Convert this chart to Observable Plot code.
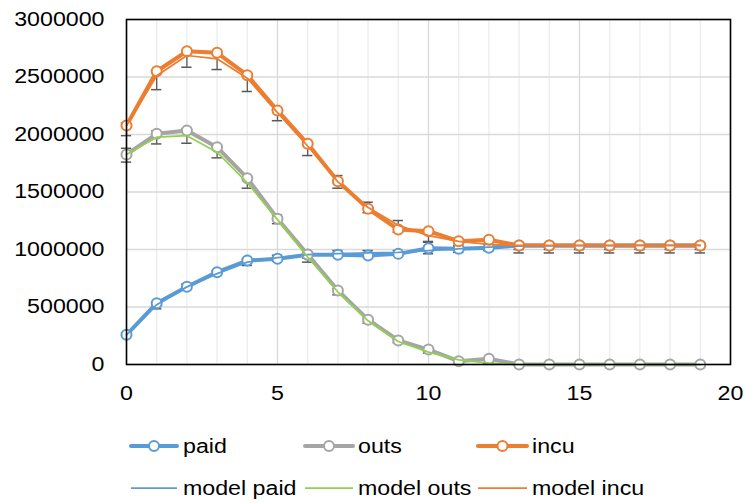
<!DOCTYPE html>
<html><head><meta charset="utf-8">
<script src="https://cdn.jsdelivr.net/npm/d3@7"></script>
<script src="https://cdn.jsdelivr.net/npm/@observablehq/plot@0.6"></script>
<style>
body{margin:0;background:#fff;font-family:"Liberation Sans",Arial,sans-serif}
svg{display:block}
</style>
</head><body><div id="chart"></div><div id="legend"></div>
<script>
// ---- data ----
const periods = [0,1,2,3,4,5,6,7,8,9,10,11,12,13,14,15,16,17,18,19];
const paid  = [258000,533000,676000,803000,904000,919000,954000,954000,948000,962000,1011000,1006000,1015000,1035000,1035000,1035000,1035000,1035000,1035000,1035000];
const outs  = [1826000,2006000,2035000,1890000,1620000,1267000,957000,643000,390000,209000,130000,29000,50000,0,0,0,0,0,0,0];
const incu  = [2078000,2550000,2724000,2710000,2516000,2209000,1919000,1594000,1354000,1174000,1159000,1072000,1084000,1035000,1035000,1035000,1035000,1035000,1035000,1035000];
const modelPaid = [258000,520000,675000,790000,890000,930000,955000,965000,970000,975000,990000,1005000,1020000,1030000,1032000,1033000,1034000,1035000,1035000,1035000];
const modelOuts = [1826000,1977000,1990000,1846000,1580000,1260000,935000,630000,380000,200000,107000,40000,11000,0,0,0,0,0,0,0];
const modelIncu = [2075000,2510000,2687000,2658000,2490000,2190000,1900000,1588000,1365000,1210000,1120000,1070000,1045000,1035000,1035000,1035000,1035000,1035000,1035000,1035000];
// error bar bounds
const paidLow  = [250000,484000,655000,775000,861000,900000,925000,945000,955000,965000,963000,975000,990000,1000000,1000000,1000000,1000000,1000000,1000000,1000000];
const paidHigh = [270000,545000,700000,815000,920000,950000,975000,991000,991000,991000,1063000,1035000,1045000,1050000,1050000,1050000,1050000,1050000,1050000,1050000];
const outsLow  = [1760000,1918000,1924000,1797000,1533000,1225000,890000,606000,360000,190000,100000,30000,10000,0,0,0,0,0,0,0];
const outsHigh = [1880000,2030000,2050000,1900000,1630000,1300000,970000,660000,400000,215000,115000,45000,15000,0,0,0,0,0,0,0];
const incuLow  = [1990000,2390000,2585000,2565000,2374000,2120000,1817000,1533000,1320000,1150000,1070000,1020000,1000000,970000,970000,970000,970000,970000,970000,970000];
const incuHigh = [2100000,2560000,2720000,2700000,2520000,2220000,1930000,1643000,1411000,1252000,1160000,1090000,1070000,1045000,1045000,1045000,1045000,1045000,1045000,1045000];
const xTicks = [0,5,10,15,20];
const xMinor = [1,2,3,4,6,7,8,9,11,12,13,14,16,17,18,19];
const yTicks = [0,500000,1000000,1500000,2000000,2500000,3000000];
const seriesNames = ["paid","outs","incu"];
const modelNames = ["model paid","model outs","model incu"];
const colors = {paid:"#5B9BD5", outs:"#A5A5A5", incu:"#ED7D31"};
const modelColors = {"model paid":"#5B9BD5","model outs":"#92D050","model incu":"#ED7D31"};

const dataVals = {paid, outs, incu};
const modelVals = {"model paid":modelPaid, "model outs":modelOuts, "model incu":modelIncu};
const lows = {paid:paidLow, outs:outsLow, incu:incuLow};
const highs = {paid:paidHigh, outs:outsHigh, incu:incuHigh};

const rows = [];
for (const s of seriesNames) periods.forEach((p,i)=>rows.push({series:s, x:p, v:dataVals[s][i], lo:lows[s][i], hi:highs[s][i]}));
const mrows = [];
for (const s of modelNames) periods.forEach((p,i)=>mrows.push({series:s, x:p, v:modelVals[s][i]}));

const capW = 0.17;
const errColor = "#595959";

const marks = [
  Plot.ruleX(xMinor, {stroke:"#ececec", strokeWidth:1.3}),
  Plot.ruleX(xTicks, {stroke:"#d9d9d9", strokeWidth:1.3}),
  Plot.ruleY(yTicks, {stroke:"#d9d9d9", strokeWidth:1.3}),
  Plot.ruleX(rows, {x:"x", y1:"lo", y2:"hi", stroke:errColor, strokeWidth:1.3}),
  Plot.ruleY(rows, {y:"lo", x1:d=>d.x-capW, x2:d=>d.x+capW, stroke:errColor, strokeWidth:1.5}),
  Plot.ruleY(rows, {y:"hi", x1:d=>d.x-capW, x2:d=>d.x+capW, stroke:errColor, strokeWidth:1.5}),
];
for (const s of seriesNames) {
  const r = rows.filter(d=>d.series===s);
  marks.push(Plot.line(r, {x:"x", y:"v", stroke:colors[s], strokeWidth:4}));
  marks.push(Plot.dot(r, {x:"x", y:"v", r:5, fill:"white", stroke:colors[s], strokeWidth:2}));
}
for (const s of modelNames) {
  const r = mrows.filter(d=>d.series===s);
  marks.push(Plot.line(r, {x:"x", y:"v", stroke:modelColors[s], strokeWidth:1.75}));
}
marks.push(Plot.frame({stroke:"black", strokeWidth:1.6}));
marks.push(Plot.axisY({ticks:yTicks, tickSize:0, tickPadding:22, tickFormat:d=>String(d), fill:"black", label:null}));
marks.push(Plot.axisX({ticks:xTicks, tickSize:0, tickPadding:22, tickFormat:d=>String(d), fill:"black", label:null}));

const chart = Plot.plot({
  width:747, height:420,
  marginLeft:126, marginRight:17, marginTop:19, marginBottom:56,
  x:{domain:[0,20], label:null},
  y:{domain:[0,3000000], label:null},
  style:{fontFamily:'"Liberation Sans", Arial, sans-serif', fontSize:"19.5px", color:"black", background:"white", overflow:"visible"},
  marks
});
chart.querySelectorAll("text").forEach(t=>{
  const tr = t.getAttribute("transform")||"";
  t.setAttribute("transform", tr+" scale(1.19,1)");
});
document.getElementById("chart").appendChild(chart);

// ---- legend ----
const leg = d3.select("#legend").append("svg").attr("width",747).attr("height",83);
const cols = [{x1:131,x2:177,tx:183},{x1:305,x2:353,tx:358},{x1:478,x2:527,tx:532}];
const rowY = [26,68];
seriesNames.forEach((s,i)=>{
  const c = cols[i], y = rowY[0];
  leg.append("line").attr("x1",c.x1).attr("x2",c.x2).attr("y1",y).attr("y2",y).attr("stroke",colors[s]).attr("stroke-width",4).attr("stroke-linecap","round");
  leg.append("circle").attr("cx",(c.x1+c.x2)/2).attr("cy",y).attr("r",5).attr("fill","white").attr("stroke",colors[s]).attr("stroke-width",2);
  leg.append("text").attr("transform",`translate(${c.tx},${y}) scale(1.19,1)`).attr("dy","0.35em").attr("font-size","19.5px").attr("font-family",'"Liberation Sans", Arial, sans-serif').text(s);
});
modelNames.forEach((s,i)=>{
  const c = cols[i], y = rowY[1];
  leg.append("line").attr("x1",c.x1).attr("x2",c.x2).attr("y1",y).attr("y2",y).attr("stroke",modelColors[s]).attr("stroke-width",1.75);
  leg.append("text").attr("transform",`translate(${c.tx},${y}) scale(1.19,1)`).attr("dy","0.35em").attr("font-size","19.5px").attr("font-family",'"Liberation Sans", Arial, sans-serif').text(s);
});
</script></body></html>
